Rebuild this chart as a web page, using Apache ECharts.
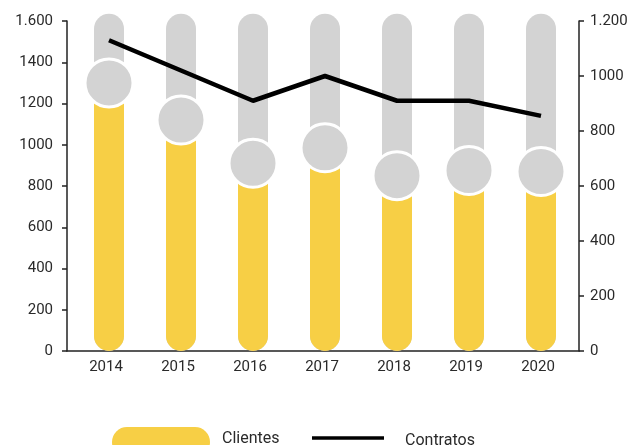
<!DOCTYPE html>
<html>
<head>
<meta charset="utf-8">
<script src="https://cdn.jsdelivr.net/npm/echarts@6/dist/echarts.min.js"></script>
<style>
html,body{margin:0;padding:0;background:#fff;}
#chart{width:633px;height:445px;}
</style>
</head>
<body>
<div id="chart"></div>
<script>
const years = ['2014','2015','2016','2017','2018','2019','2020'];
const clientes = [1300, 1120, 910, 985, 850, 875, 870];
const contratos = [1130, 1020, 910, 1000, 910, 910, 855];
const track = [1635, 1635, 1635, 1635, 1635, 1635, 1635];
const leftTickLabels = ['0','200','400','600','800','1000','1200','1400','1.600'];
const rightTickLabels = ['0','200','400','600','800','1000','1.200'];

const YELLOW = '#f7cf45';
const GRAY = '#d3d3d3';
const FONT = 'Roboto';
const TXT = '#2a2a2a';

const chart = echarts.init(document.getElementById('chart'), null, {renderer:'canvas'});
chart.setOption({
  animation: false,
  textStyle: {fontFamily: FONT},
  grid: [
    {left: 73, right: 56, top: 21, bottom: 94},
    {left: 67, right: 54, top: 21, bottom: 94}
  ],
  xAxis: [
    {
      type: 'category', data: years, gridIndex: 0,
      axisLine: {show: false}, axisTick: {show: false},
      axisLabel: {color: TXT, fontSize: 15, fontFamily: FONT, margin: 9, padding: [0, 6, 0, 0]}
    },
    {
      type: 'value', gridIndex: 1, min: 0, max: 1,
      axisLine: {show: true, lineStyle: {color: '#222', width: 1.5}},
      axisTick: {show: false}, axisLabel: {show: false}, splitLine: {show: false}
    }
  ],
  yAxis: [
    {
      type: 'value', gridIndex: 0, min: 0, max: 1600, interval: 200, offset: 6,
      axisLine: {show: true, lineStyle: {color: '#222', width: 1.5}},
      axisTick: {show: true, length: 5, lineStyle: {color: '#222', width: 1.5}},
      splitLine: {show: false},
      axisLabel: {color: TXT, fontSize: 15, fontFamily: FONT, margin: 14,
        formatter: v => leftTickLabels[Math.round(v / 200)]}
    },
    {
      type: 'value', gridIndex: 0, position: 'right', min: 0, max: 1200, interval: 200, offset: 2,
      axisLine: {show: true, lineStyle: {color: '#222', width: 1.5}},
      axisTick: {show: true, length: 5, lineStyle: {color: '#222', width: 1.5}},
      splitLine: {show: false},
      axisLabel: {color: TXT, fontSize: 15, fontFamily: FONT, margin: 11,
        formatter: v => rightTickLabels[Math.round(v / 200)]}
    },
    {type: 'value', gridIndex: 1, min: 0, max: 1, show: false}
  ],
  legend: [
    {
      left: 112, top: 427, padding: 0, itemWidth: 98, itemHeight: 30,
      data: [{name: 'Clientes', icon: 'path://M15,0 L83,0 A15,15 0 0 1 83,30 L15,30 A15,15 0 0 1 15,0 Z'}],
      formatter: n => '{g| }{t|' + n + '}',
      textStyle: {color: TXT, fontSize: 16, fontFamily: FONT,
        rich: {g: {width: 7, fontSize: 16}, t: {fontSize: 16, color: TXT, fontFamily: FONT, padding: [0, 0, 7, 0]}}},
      selectedMode: false
    },
    {
      left: 312, top: 430, padding: 0, itemWidth: 72, itemHeight: 3.5,
      data: [{name: 'Contratos', icon: 'rect', itemStyle: {color: '#000'}}],
      formatter: n => '{g| }{t|' + n + '}',
      textStyle: {color: TXT, fontSize: 16, fontFamily: FONT,
        rich: {g: {width: 16, fontSize: 16}, t: {fontSize: 16, color: TXT, fontFamily: FONT, padding: [5, 0, 0, 0]}}},
      selectedMode: false
    }
  ],
  series: [
    {
      name: 'track', type: 'bar', data: track, barWidth: 30, barGap: '-100%',
      clip: false, silent: true,
      itemStyle: {color: GRAY, borderRadius: 15}, z: 1
    },
    {
      name: 'Clientes', type: 'bar', data: clientes, barWidth: 30, barGap: '-100%',
      itemStyle: {color: YELLOW, borderRadius: 15}, z: 2
    },
    {
      name: 'Contratos', type: 'line', data: contratos, yAxisIndex: 1,
      symbol: 'none', lineStyle: {color: '#000', width: 4.5, cap: 'butt'},
      itemStyle: {color: '#000'}, z: 3
    },
    {
      name: 'clientesPunto', type: 'scatter', data: clientes, symbolSize: 48,
      itemStyle: {color: GRAY, borderColor: '#fff', borderWidth: 3, opacity: 1}, z: 4
    }
  ]
});
</script>
</body>
</html>
